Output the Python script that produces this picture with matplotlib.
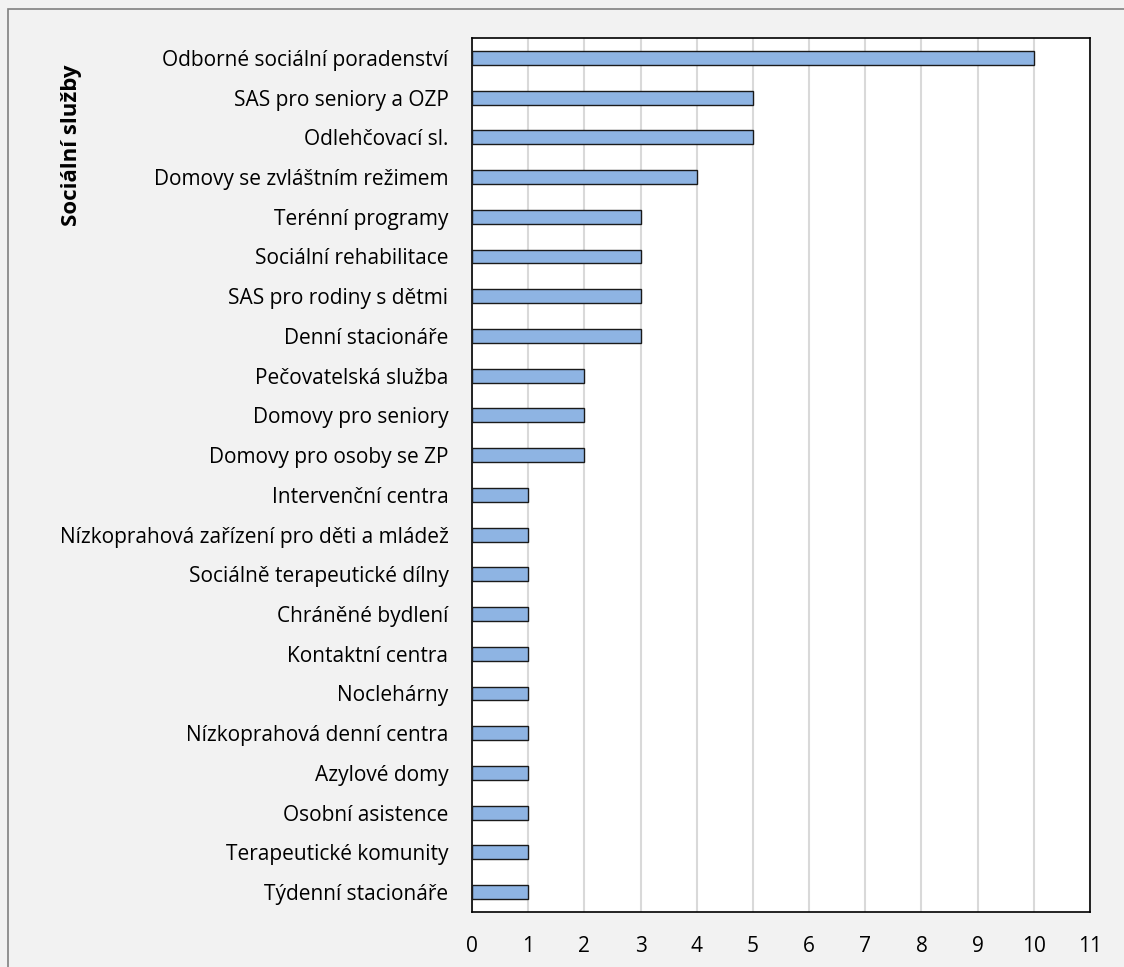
import matplotlib
matplotlib.use("Agg")
import matplotlib.pyplot as plt
from matplotlib.patches import Rectangle

categories = [
    "Odborné sociální poradenství",
    "SAS pro seniory a OZP",
    "Odlehčovací sl.",
    "Domovy se zvláštním režimem",
    "Terénní programy",
    "Sociální rehabilitace",
    "SAS pro rodiny s dětmi",
    "Denní stacionáře",
    "Pečovatelská služba",
    "Domovy pro seniory",
    "Domovy pro osoby se ZP",
    "Intervenční centra",
    "Nízkoprahová zařízení pro děti a mládež",
    "Sociálně terapeutické dílny",
    "Chráněné bydlení",
    "Kontaktní centra",
    "Noclehárny",
    "Nízkoprahová denní centra",
    "Azylové domy",
    "Osobní asistence",
    "Terapeutické komunity",
    "Týdenní stacionáře",
]
values = [10, 5, 5, 4, 3, 3, 3, 3, 2, 2, 2, 1, 1, 1, 1, 1, 1, 1, 1, 1, 1, 1]
xticks = list(range(0, 12))

plt.rcParams['font.family'] = ['Open Sans', 'DejaVu Sans']

W, H = 1124, 967
fig = plt.figure(figsize=(W / 100, H / 100), dpi=100)
fig.patch.set_facecolor('#F2F2F2')

ax = fig.add_axes([472 / W, 1 - 912 / H, (1090 - 472) / W, (912 - 38) / H])
ax.set_facecolor('white')

n = len(categories)
ypos = list(range(n))
ax.barh(ypos, values, height=0.35, color='#8EB4E3', edgecolor='#1a1a1a', linewidth=1.0, zorder=3)
ax.set_ylim(n - 0.5, -0.5)
ax.set_xlim(0, 11)
ax.set_xticks(xticks)
ax.set_xticklabels([str(t) for t in xticks], fontsize=15)
ax.set_yticks(ypos)
ax.set_yticklabels(categories, fontsize=15)
ax.tick_params(axis='both', length=0)
ax.tick_params(axis='y', pad=17)
ax.tick_params(axis='x', pad=17)
ax.grid(axis='x', color='#D9D9D9', linewidth=1.5, zorder=0)
ax.set_axisbelow(True)
for s in ax.spines.values():
    s.set_color('black')
    s.set_linewidth(1.2)

fig.text(72 / W, 1 - 64 / H, "Sociální služby", rotation=90, ha='center', va='top',
         fontsize=16, fontweight='bold')

fig.patches.append(Rectangle((8 / W, -0.1), 1.2, 1 - 9 / H + 0.1, transform=fig.transFigure,
                             fill=False, edgecolor='#808080', linewidth=1.2))

fig.savefig("out.png", dpi=100, facecolor=fig.get_facecolor())
